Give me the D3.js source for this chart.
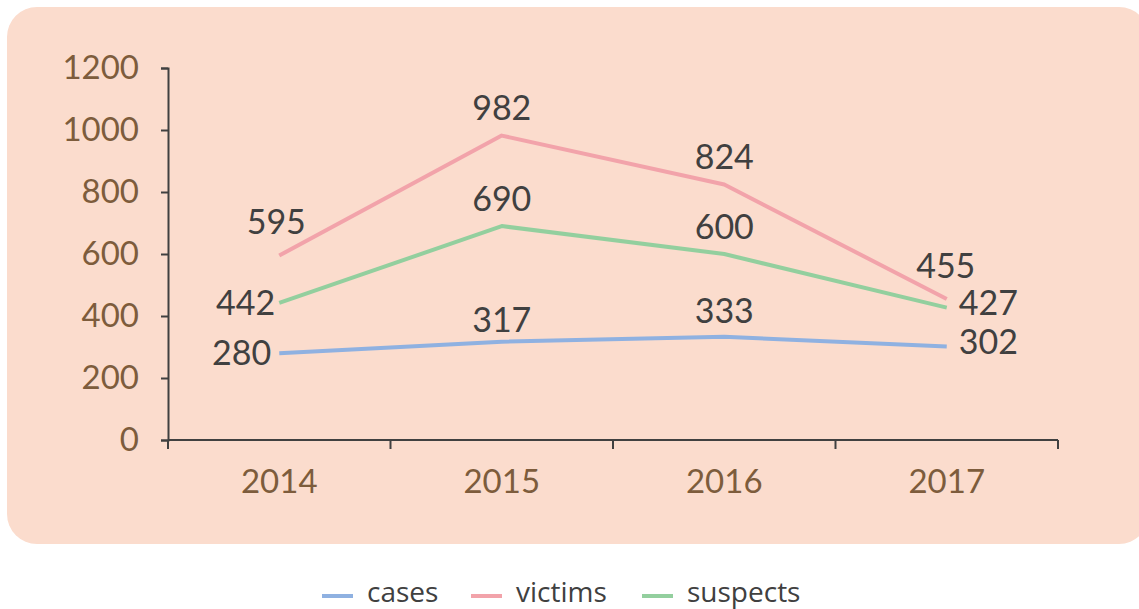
<!DOCTYPE html>
<html>
<head>
<meta charset="utf-8">
<script src="https://cdn.jsdelivr.net/npm/d3@7"></script>
<style>
  body { margin: 0; background: #ffffff; }
  svg { display: block; }
</style>
</head>
<body>
<div id="chart"></div>
<script>

// data
const years = ["2014", "2015", "2016", "2017"];
const cases = [280, 317, 333, 302];
const victims = [595, 982, 824, 455];
const suspects = [442, 690, 600, 427];
const yTicks = [0, 200, 400, 600, 800, 1000, 1200];

const series = [
    { name: "cases", values: cases, color: "#8fb1e1" },
    { name: "victims", values: victims, color: "#f2a3aa" },
    { name: "suspects", values: suspects, color: "#93cf9e" },
];

// label placement per series/point: [anchor, dx, dy]
const labelPos = {
    cases: [["end", -8, 0], ["middle", 0, -22], ["middle", 0, -26], ["start", 12, -4]],
    victims: [["middle", -3, -33], ["middle", 0, -27], ["middle", 0, -27], ["middle", -1, -33]],
    suspects: [["end", -4, 0], ["middle", 0, -27], ["middle", 0, -27], ["start", 12, -5]],
};

const dimensions = {
    width: 1139,
    height: 609,
    margin: { top: 68, right: 81, bottom: 169, left: 168 },
};
dimensions.boundedWidth = dimensions.width - dimensions.margin.left - dimensions.margin.right;
dimensions.boundedHeight = dimensions.height - dimensions.margin.top - dimensions.margin.bottom;

const svg = d3.select("#chart")
    .append("svg")
    .attr("width", dimensions.width)
    .attr("height", dimensions.height);

// background panel
svg.append("rect")
    .attr("x", 7)
    .attr("y", 7)
    .attr("width", 1142)
    .attr("height", 537)
    .attr("rx", 30)
    .attr("fill", "#fbdccd");

const bounds = svg.append("g")
    .attr("transform", `translate(${dimensions.margin.left}, ${dimensions.margin.top})`);

// scales
const x = d3.scaleBand()
    .domain(years)
    .range([0, dimensions.boundedWidth])
    .padding(0);

const y = d3.scaleLinear()
    .domain([0, 1200])
    .range([dimensions.boundedHeight, 0]);

const xc = d => x(d) + x.bandwidth() / 2;

// y axis
const yAxis = bounds.append("g")
    .call(d3.axisLeft(y).tickValues(yTicks).tickFormat(d3.format("d")).tickSize(7).tickPadding(22));
yAxis.select(".domain").attr("stroke", "#404040").attr("stroke-width", 2);
yAxis.selectAll(".tick line").attr("stroke", "#404040").attr("stroke-width", 2);
yAxis.selectAll(".tick text")
    .attr("fill", "#7d5c3c")
    .style("font-family", "Lato")
    .style("font-size", "33px");

// x axis: line with ticks at band edges, labels at band centres
const xAxis = bounds.append("g")
    .attr("transform", `translate(0, ${dimensions.boundedHeight})`);
xAxis.append("line")
    .attr("x1", 0)
    .attr("x2", dimensions.boundedWidth)
    .attr("stroke", "#404040")
    .attr("stroke-width", 2);
xAxis.selectAll("line.edge")
    .data(years.map(d => x(d)).concat([dimensions.boundedWidth]))
    .join("line")
    .attr("class", "edge")
    .attr("x1", d => d)
    .attr("x2", d => d)
    .attr("y1", 0)
    .attr("y2", 9)
    .attr("stroke", "#404040")
    .attr("stroke-width", 2);
xAxis.selectAll("text")
    .data(years)
    .join("text")
    .attr("x", d => xc(d))
    .attr("y", 53)
    .attr("text-anchor", "middle")
    .attr("fill", "#7d5c3c")
    .style("font-family", "Lato")
    .style("font-size", "33px")
    .text(d => d);

// lines
const line = d3.line()
    .x((d, i) => xc(years[i]))
    .y(d => y(d));

bounds.selectAll("path.series")
    .data(series)
    .join("path")
    .attr("class", "series")
    .attr("d", d => line(d.values))
    .attr("fill", "none")
    .attr("stroke", d => d.color)
    .attr("stroke-width", 4)
    .attr("stroke-linejoin", "round");

// data labels
series.forEach(s => {
    bounds.selectAll(`text.lbl-${s.name}`)
        .data(s.values)
        .join("text")
        .attr("class", `lbl-${s.name}`)
        .attr("x", (d, i) => xc(years[i]) + labelPos[s.name][i][1])
        .attr("y", (d, i) => y(d) + labelPos[s.name][i][2])
        .attr("dy", "0.35em")
        .attr("text-anchor", (d, i) => labelPos[s.name][i][0])
        .attr("fill", "#404040")
        .style("font-family", "Lato")
        .style("font-size", "34px")
        .text(d => d);
});

// legend
const legendX = [322, 471, 642];
const legend = svg.selectAll("g.legend")
    .data(series)
    .join("g")
    .attr("class", "legend")
    .attr("transform", (d, i) => `translate(${legendX[i]}, 596)`);
legend.append("line")
    .attr("x1", 0)
    .attr("x2", 31)
    .attr("stroke", d => d.color)
    .attr("stroke-width", 4);
legend.append("text")
    .attr("x", 45)
    .attr("y", 6)
    .attr("fill", "#404040")
    .style("font-family", "Open Sans")
    .style("font-size", "28px")
    .text(d => d.name);

</script>
</body>
</html>
